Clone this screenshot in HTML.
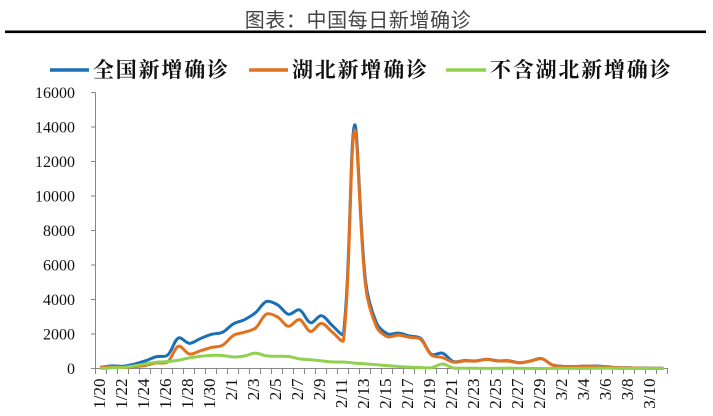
<!DOCTYPE html>
<html>
<head>
<meta charset="utf-8">
<style>
  html,body{margin:0;padding:0;background:#fff;}
  body{width:713px;height:416px;overflow:hidden;}
  svg{display:block;}
  .tl{font-family:"Liberation Serif","Noto Serif CJK SC",serif;font-size:16px;fill:#111;}
  .xl{font-family:"Liberation Serif","Noto Serif CJK SC",serif;font-size:17px;fill:#111;}
  .lg{font-family:"Liberation Serif","Noto Serif CJK SC",serif;font-size:21px;font-weight:bold;fill:#111;letter-spacing:1.8px;}
  .tt{font-family:"Liberation Sans","Noto Sans CJK SC",sans-serif;font-size:20px;fill:#444;letter-spacing:0.6px;}
</style>
</head>
<body>
<svg id="chart" width="713" height="416" viewBox="0 0 713 416" xmlns="http://www.w3.org/2000/svg">
  <!-- title -->
  <text class="tt" x="358" y="27" text-anchor="middle">图表：中国每日新增确诊</text>
  <rect x="5" y="30.5" width="701" height="2.6" fill="#000"/>

  <!-- legend -->
  <line x1="50" y1="70" x2="89" y2="70" stroke="#1b6fb5" stroke-width="3.5"/>
  <text class="lg" x="93" y="77">全国新增确诊</text>
  <line x1="249" y1="70" x2="288" y2="70" stroke="#e2711d" stroke-width="3.5"/>
  <text class="lg" x="292" y="77">湖北新增确诊</text>
  <line x1="446" y1="70" x2="486" y2="70" stroke="#92d050" stroke-width="3.5"/>
  <text class="lg" x="490" y="77">不含湖北新增确诊</text>

  <!-- y axis -->
  <g stroke="#868686" stroke-width="1">
    <line x1="95.5" y1="92.5" x2="95.5" y2="369"/>
    <line x1="91" y1="92.5" x2="95.5" y2="92.5"/>
    <line x1="91" y1="127" x2="95.5" y2="127"/>
    <line x1="91" y1="161.5" x2="95.5" y2="161.5"/>
    <line x1="91" y1="196" x2="95.5" y2="196"/>
    <line x1="91" y1="230.5" x2="95.5" y2="230.5"/>
    <line x1="91" y1="265" x2="95.5" y2="265"/>
    <line x1="91" y1="299.5" x2="95.5" y2="299.5"/>
    <line x1="91" y1="334" x2="95.5" y2="334"/>
    <line x1="91" y1="368.5" x2="95.5" y2="368.5"/>
    <!-- x axis -->
    <line x1="95.5" y1="368.5" x2="668" y2="368.5"/>
  </g>
  <g id="xticks" stroke="#868686" stroke-width="1"></g>

  <g class="tl" text-anchor="end">
    <text x="75" y="98">16000</text>
    <text x="75" y="132.5">14000</text>
    <text x="75" y="167">12000</text>
    <text x="75" y="201.5">10000</text>
    <text x="75" y="236">8000</text>
    <text x="75" y="270.5">6000</text>
    <text x="75" y="305">4000</text>
    <text x="75" y="339.5">2000</text>
    <text x="75" y="374">0</text>
  </g>

  <!-- x labels -->
  <g class="xl" text-anchor="end">
    <text transform="translate(105,378.5) rotate(-90)">1/20</text>
    <text transform="translate(127,378.5) rotate(-90)">1/22</text>
    <text transform="translate(149,378.5) rotate(-90)">1/24</text>
    <text transform="translate(171,378.5) rotate(-90)">1/26</text>
    <text transform="translate(193,378.5) rotate(-90)">1/28</text>
    <text transform="translate(215,378.5) rotate(-90)">1/30</text>
    <text transform="translate(237,378.5) rotate(-90)">2/1</text>
    <text transform="translate(259,378.5) rotate(-90)">2/3</text>
    <text transform="translate(281,378.5) rotate(-90)">2/5</text>
    <text transform="translate(303,378.5) rotate(-90)">2/7</text>
    <text transform="translate(325,378.5) rotate(-90)">2/9</text>
    <text transform="translate(347,378.5) rotate(-90)">2/11</text>
    <text transform="translate(369,378.5) rotate(-90)">2/13</text>
    <text transform="translate(391,378.5) rotate(-90)">2/15</text>
    <text transform="translate(413,378.5) rotate(-90)">2/17</text>
    <text transform="translate(435,378.5) rotate(-90)">2/19</text>
    <text transform="translate(457,378.5) rotate(-90)">2/21</text>
    <text transform="translate(479,378.5) rotate(-90)">2/23</text>
    <text transform="translate(501,378.5) rotate(-90)">2/25</text>
    <text transform="translate(523,378.5) rotate(-90)">2/27</text>
    <text transform="translate(545,378.5) rotate(-90)">2/29</text>
    <text transform="translate(567,378.5) rotate(-90)">3/2</text>
    <text transform="translate(589,378.5) rotate(-90)">3/4</text>
    <text transform="translate(611,378.5) rotate(-90)">3/6</text>
    <text transform="translate(633,378.5) rotate(-90)">3/8</text>
    <text transform="translate(655,378.5) rotate(-90)">3/10</text>
  </g>

  <!-- fallback polylines (replaced by smooth paths via script) -->
  <g id="fallback" fill="none" stroke-width="3" stroke-linejoin="round" stroke-linecap="round">
    <polyline id="fb1" stroke="#1b6fb5" vector-effect="non-scaling-stroke" transform="translate(101.5 368.5) scale(11 -0.01725)" points=""/>
    <polyline id="fb2" stroke="#e2711d" vector-effect="non-scaling-stroke" transform="translate(101.5 368.5) scale(11 -0.01725)" points=""/>
    <polyline id="fb3" stroke="#92d050" vector-effect="non-scaling-stroke" transform="translate(101.5 368.5) scale(11 -0.01725)" points=""/>
  </g>
  <g id="series" fill="none" stroke-width="3" stroke-linejoin="round" stroke-linecap="round"></g>
</svg>
<script>
(function(){
  var blue=[77,149,131,259,444,688,769,1771,1459,1737,1982,2102,2590,2829,3235,3887,3694,3143,3399,2656,3062,2478,2015,14108,5090,2641,2009,2048,1886,1749,820,889,400,460,440,540,445,450,335,435,576,206,125,119,139,143,99,44,40,19,24,15];
  var orange=[72,105,69,105,180,323,371,1291,840,1032,1220,1347,1921,2103,2345,3156,2987,2447,2841,2147,2618,2097,1638,13800,4823,2420,1843,1933,1807,1693,775,631,366,440,430,530,440,430,330,430,570,200,114,115,134,126,74,41,36,17,13,8];
  var green=[5,44,62,154,264,365,398,480,619,705,762,755,669,726,890,731,707,696,558,509,444,381,377,312,267,221,166,115,79,56,45,258,31,18,11,9,5,24,9,4,3,6,11,4,5,17,25,3,4,2,11,7];
  var NS="http://www.w3.org/2000/svg";
  var tg=document.getElementById('xticks');
  for(var k=0;k<=52;k++){
    var x=95.5+11*k;
    var l=document.createElementNS(NS,'line');
    l.setAttribute('x1',x);l.setAttribute('x2',x);
    l.setAttribute('y1',368.5);l.setAttribute('y2',374);
    tg.appendChild(l);
  }
  function pts(v){return v.map(function(a,i){return i+','+a;}).join(' ');}
  document.getElementById('fb1').setAttribute('points',pts(blue));
  document.getElementById('fb2').setAttribute('points',pts(orange));
  document.getElementById('fb3').setAttribute('points',pts(green));
  function dist(a,b){var dx=a[0]-b[0],dy=a[1]-b[1];return Math.sqrt(dx*dx+dy*dy);}
  function smooth(v){
    var P=v.map(function(a,i){return [101.5+11*i,368.5-a*0.01725];});
    var d='M'+P[0][0].toFixed(2)+','+P[0][1].toFixed(2);
    for(var i=0;i<P.length-1;i++){
      var p0=P[i-1]||P[i],p1=P[i],p2=P[i+1],p3=P[i+2]||P[i+1];
      var d01=dist(p0,p1),d12=dist(p1,p2),d23=dist(p2,p3);
      var f1=(d01+d12)>0? d12/(3*(d01+d12)) : 0;
      var f2=(d12+d23)>0? d12/(3*(d12+d23)) : 0;
      if(i===0) f1=d12>0?1/6:0;
      if(i===P.length-2) f2=d12>0?1/6:0;
      var c1x=p1[0]+(p2[0]-p0[0])*f1,c1y=p1[1]+(p2[1]-p0[1])*f1;
      var c2x=p2[0]-(p3[0]-p1[0])*f2,c2y=p2[1]-(p3[1]-p1[1])*f2;
      d+='C'+c1x.toFixed(2)+','+c1y.toFixed(2)+' '+c2x.toFixed(2)+','+c2y.toFixed(2)+' '+p2[0].toFixed(2)+','+p2[1].toFixed(2);
    }
    return d;
  }
  var sg=document.getElementById('series');
  [[blue,'#1b6fb5'],[orange,'#e2711d'],[green,'#92d050']].forEach(function(s){
    var p=document.createElementNS(NS,'path');
    p.setAttribute('d',smooth(s[0]));
    p.setAttribute('stroke',s[1]);
    sg.appendChild(p);
  });
  document.getElementById('fallback').setAttribute('display','none');
})();
</script>
</body>
</html>
